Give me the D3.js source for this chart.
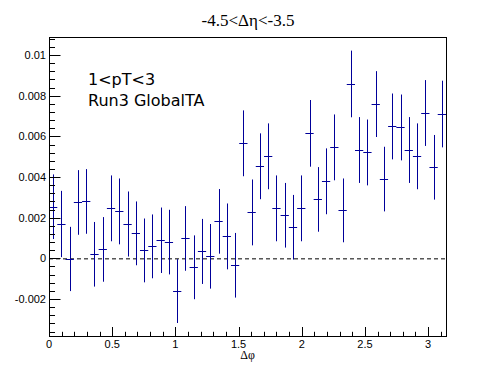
<!DOCTYPE html>
<html>
<head>
<meta charset="utf-8">
<script src="https://cdn.jsdelivr.net/npm/d3@7"></script>
<style>
  body { margin: 0; background: #fff; }
  svg { display: block; }
</style>
</head>
<body>
<svg id="chart" width="496" height="374"></svg>
<script>
// 48 bins in dphi from 0 to pi
var nBins = 48
var values = [
    0.00254, 0.00169, -0.00003, 0.00275, 0.00280, 0.00020, 0.00044, 0.00246,
    0.00231, 0.00169, 0.00123, 0.00039, 0.00059, 0.00089, 0.00080, -0.00161,
    0.00098, -0.00044, 0.00034, 0.00010, 0.00182, 0.00108, -0.00034, 0.00566,
    0.00226, 0.00453, 0.00502, 0.00246, 0.00212, 0.00153, 0.00246, 0.00615,
    0.00290, 0.00379, 0.00546, 0.00236, 0.00858, 0.00533, 0.00521, 0.00759,
    0.00390, 0.00649, 0.00644, 0.00533, 0.00502, 0.00715, 0.00448, 0.00710
]
var errors = [
    0.00159, 0.00163, 0.00158, 0.00159, 0.00159, 0.00159, 0.00159, 0.00162,
    0.00162, 0.00160, 0.00157, 0.00157, 0.00157, 0.00161, 0.00159, 0.00157,
    0.00159, 0.00157, 0.00160, 0.00159, 0.00159, 0.00162, 0.00159, 0.00162,
    0.00162, 0.00162, 0.00162, 0.00162, 0.00159, 0.00159, 0.00162, 0.00164,
    0.00159, 0.00162, 0.00162, 0.00157, 0.00164, 0.00162, 0.00162, 0.00162,
    0.00159, 0.00162, 0.00162, 0.00162, 0.00162, 0.00162, 0.00159, 0.00164
]
var xTicks = [0, 0.5, 1, 1.5, 2, 2.5, 3]
var yTicks = [-0.002, 0, 0.002, 0.004, 0.006, 0.008, 0.01]
var yTickLabels = ["-0.002", "0", "0.002", "0.004", "0.006", "0.008", "0.01"]
var titleText = "-4.5<\u0394\u03b7<-3.5"
var infoLines = ["1<pT<3", "Run3 GlobalTA"]

var frame = {left: 49, right: 446, top: 37, bottom: 336}
var color = "#000099"

var svg = d3.select("#chart")

var x = d3.scaleLinear().domain([0, Math.PI]).range([frame.left, frame.right])
var y = d3.scaleLinear().domain([-0.00382, 0.01089]).range([frame.bottom, frame.top])

var bins = values.map(function(v, i) {
    var w = Math.PI / nBins
    return {lo: i * w, hi: (i + 1) * w, mid: (i + 0.5) * w, v: v, e: errors[i]}
})

// zero line
svg.append("line")
    .attr("x1", x(0)).attr("x2", x(Math.PI))
    .attr("y1", y(0) + 0.5).attr("y2", y(0) + 0.5)
    .attr("stroke", "#000").attr("stroke-width", 1)
    .attr("stroke-dasharray", "4,3")

// error bars
var g = svg.append("g").attr("stroke", color).attr("stroke-width", 1).attr("fill", "none")
g.selectAll("line.v").data(bins).enter().append("line")
    .attr("class", "v")
    .attr("x1", function(d) { return Math.round(x(d.mid)) + 0.5 })
    .attr("x2", function(d) { return Math.round(x(d.mid)) + 0.5 })
    .attr("y1", function(d) { return y(d.v - d.e) })
    .attr("y2", function(d) { return y(d.v + d.e) })
g.selectAll("line.h").data(bins).enter().append("line")
    .attr("class", "h")
    .attr("x1", function(d) { return x(d.lo) })
    .attr("x2", function(d) { return x(d.hi) })
    .attr("y1", function(d) { return Math.round(y(d.v)) + 0.5 })
    .attr("y2", function(d) { return Math.round(y(d.v)) + 0.5 })

// frame
svg.append("rect")
    .attr("x", frame.left + 0.5).attr("y", frame.top + 0.5)
    .attr("width", frame.right - frame.left).attr("height", frame.bottom - frame.top)
    .attr("fill", "none").attr("stroke", "#000").attr("stroke-width", 1)

// x axis ticks
var xMinor = d3.range(0, 3.15, 0.1)
svg.append("g").selectAll("line").data(xMinor).enter().append("line")
    .attr("x1", function(d) { return Math.round(x(d)) + 0.5 })
    .attr("x2", function(d) { return Math.round(x(d)) + 0.5 })
    .attr("y1", frame.bottom + 0.5)
    .attr("y2", function(d, i) { return frame.bottom + 0.5 - (i % 5 == 0 ? 9.5 : 4.7) })
    .attr("stroke", "#000")

svg.append("g").selectAll("text").data(xTicks).enter().append("text")
    .attr("x", function(d) { return x(d) })
    .attr("y", frame.bottom + 12)
    .attr("text-anchor", "middle")
    .attr("font-family", "Liberation Sans, Arial, sans-serif")
    .attr("font-size", 11)
    .text(function(d) { return d })

// y axis ticks
var yMinor = d3.range(-0.0036, 0.0109, 0.0004)
svg.append("g").selectAll("line").data(yMinor).enter().append("line")
    .attr("x1", frame.left + 0.5)
    .attr("x2", function(d) {
        var major = Math.abs(Math.round(d / 0.002) * 0.002 - d) < 1e-7
        return frame.left + 0.5 + (major ? 11 : 5.5)
    })
    .attr("y1", function(d) { return Math.round(y(d)) + 0.5 })
    .attr("y2", function(d) { return Math.round(y(d)) + 0.5 })
    .attr("stroke", "#000")

svg.append("g").selectAll("text").data(yTicks).enter().append("text")
    .attr("x", frame.left - 3)
    .attr("y", function(d) { return y(d) + 4 })
    .attr("text-anchor", "end")
    .attr("font-family", "Liberation Sans, Arial, sans-serif")
    .attr("font-size", 11)
    .text(function(d, i) { return yTickLabels[i] })

// axis title
svg.append("text")
    .attr("x", (frame.left + frame.right) / 2)
    .attr("y", 359)
    .attr("text-anchor", "middle")
    .attr("font-family", "Liberation Serif, Times New Roman, serif")
    .attr("font-size", 12)
    .text("\u0394\u03c6")

// title
svg.append("text")
    .attr("x", 248)
    .attr("y", 26)
    .attr("text-anchor", "middle")
    .attr("font-family", "Liberation Serif, Times New Roman, serif")
    .attr("font-size", 17)
    .text(titleText)

// info text
svg.append("g").selectAll("text").data(infoLines).enter().append("text")
    .attr("x", 88)
    .attr("y", function(d, i) { return 85 + i * 21 })
    .attr("font-family", "DejaVu Sans, sans-serif")
    .attr("font-size", 16)
    .text(function(d) { return d })
</script>
</body>
</html>
